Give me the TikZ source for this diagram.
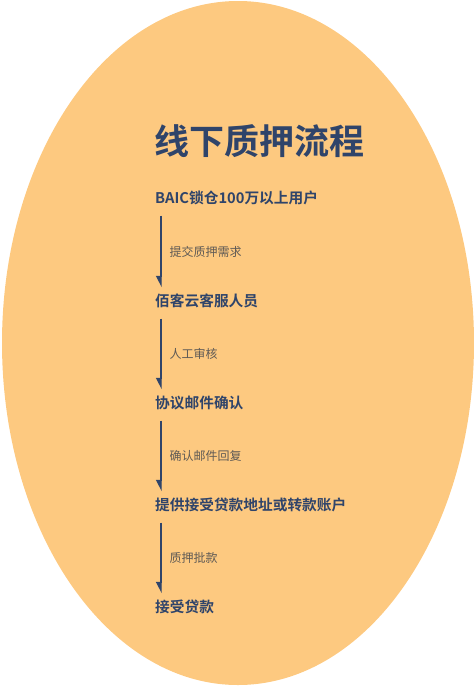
\documentclass[tikz,border=0pt]{standalone}
\usepackage{fontspec}
\newfontfamily\cjk{Noto Sans CJK SC}
\newfontfamily\cjkb{Noto Sans CJK SC Bold}
\usetikzlibrary{arrows.meta}
\definecolor{peach}{RGB}{253,201,128}
\definecolor{navy}{RGB}{47,68,106}
\definecolor{lbl}{RGB}{95,90,85}
\tikzset{
  title/.style={anchor=west, inner sep=0pt, font=\cjkb\fontsize{35}{35}\selectfont, text=navy},
  stepbox/.style={anchor=west, inner sep=0pt, font=\cjkb\fontsize{14.7}{14.7}\selectfont, text=navy, text height=11pt, text depth=2pt},
  lab/.style={right, inner sep=0pt, xshift=8pt, font=\cjk\fontsize{12}{12}\selectfont, text=lbl},
  arr/.style={draw=navy, line width=1.4pt, -{Triangle[harpoon,swap,length=10pt,width=10pt]}}
}
\begin{document}
\begin{tikzpicture}[x=1pt,y=-1pt]
\useasboundingbox (0,0) rectangle (474,691);
\fill[peach] (238,343) ellipse [x radius=236, y radius=342];
\node[title] (t) at (154,141) {线下质押流程};
\node[stepbox] (s1) at (155,199) {BAIC锁仓100万以上用户};
\node[stepbox] (s2) at (155,302) {佰客云客服人员};
\node[stepbox] (s3) at (155,404) {协议邮件确认};
\node[stepbox] (s4) at (155,506) {提供接受贷款地址或转款账户};
\node[stepbox] (s5) at (155,608) {接受贷款};
\foreach \a/\b/\t in {s1/s2/提交质押需求, s2/s3/人工审核, s3/s4/确认邮件回复, s4/s5/质押批款}{
  \draw[arr] ([xshift=6pt,yshift=-10pt]\a.south west) -- node[lab]{\t} ([xshift=6pt,yshift=8pt]\b.north west);
}
\end{tikzpicture}
\end{document}
